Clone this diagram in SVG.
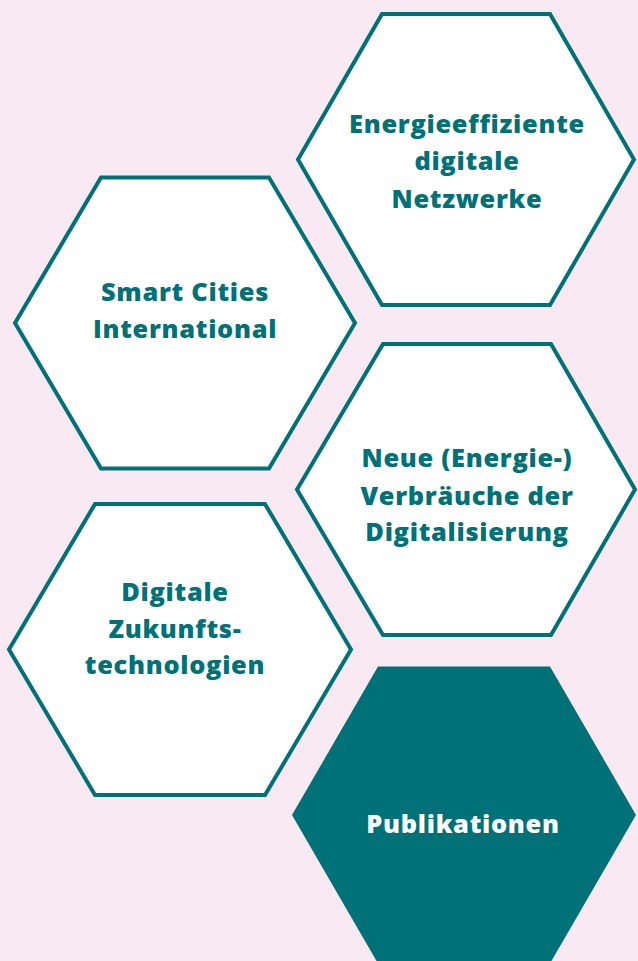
<svg xmlns="http://www.w3.org/2000/svg" width="638" height="961" viewBox="0 0 638 961">
<style>
.hex{fill:#ffffff;stroke:#007176;stroke-width:4;stroke-linejoin:miter}
.hexf{fill:#007176;stroke:none}
.t{font-family:"Open Sans","Lato",sans-serif;font-weight:800;font-size:25.4px;letter-spacing:0.7px;fill:#007176;text-anchor:middle}
.tw{fill:#ffffff}
</style>
<rect x="0" y="0" width="638" height="961" fill="#f8e9f3"/>
<g id="hex-energie">
<polygon class="hex" points="298,159.5 382,14 550,14 634,159.5 550,305 382,305"/>
<text class="t" x="467" y="133">Energieeffiziente</text>
<text class="t" x="467" y="170">digitale</text>
<text class="t" x="467" y="208">Netzwerke</text>
</g>
<g id="hex-smart">
<polygon class="hex" points="15,323 101,177.5 269,177.5 355,323 269,468.5 101,468.5"/>
<text class="t" x="185" y="301">Smart Cities</text>
<text class="t" x="185" y="338">International</text>
</g>
<g id="hex-neue">
<polygon class="hex" points="297,489.5 383,344 551,344 635,489.5 551,635 383,635"/>
<text class="t" x="467" y="467">Neue (Energie-)</text>
<text class="t" x="467" y="505">Verbräuche der</text>
<text class="t" x="467" y="541">Digitalisierung</text>
</g>
<g id="hex-digitale">
<polygon class="hex" points="9,649.5 95,504 265,504 351,649.5 265,795 95,795"/>
<text class="t" x="175" y="601">Digitale</text>
<text class="t" x="175" y="638">Zukunfts-</text>
<text class="t" x="175" y="674">technologien</text>
</g>
<g id="hex-publikationen">
<polygon class="hexf" points="292,815 378,666.5 550,666.5 636,815 550,963.5 378,963.5"/>
<text class="t tw" x="463" y="833">Publikationen</text>
</g>
<g id="connectors"></g>
</svg>
